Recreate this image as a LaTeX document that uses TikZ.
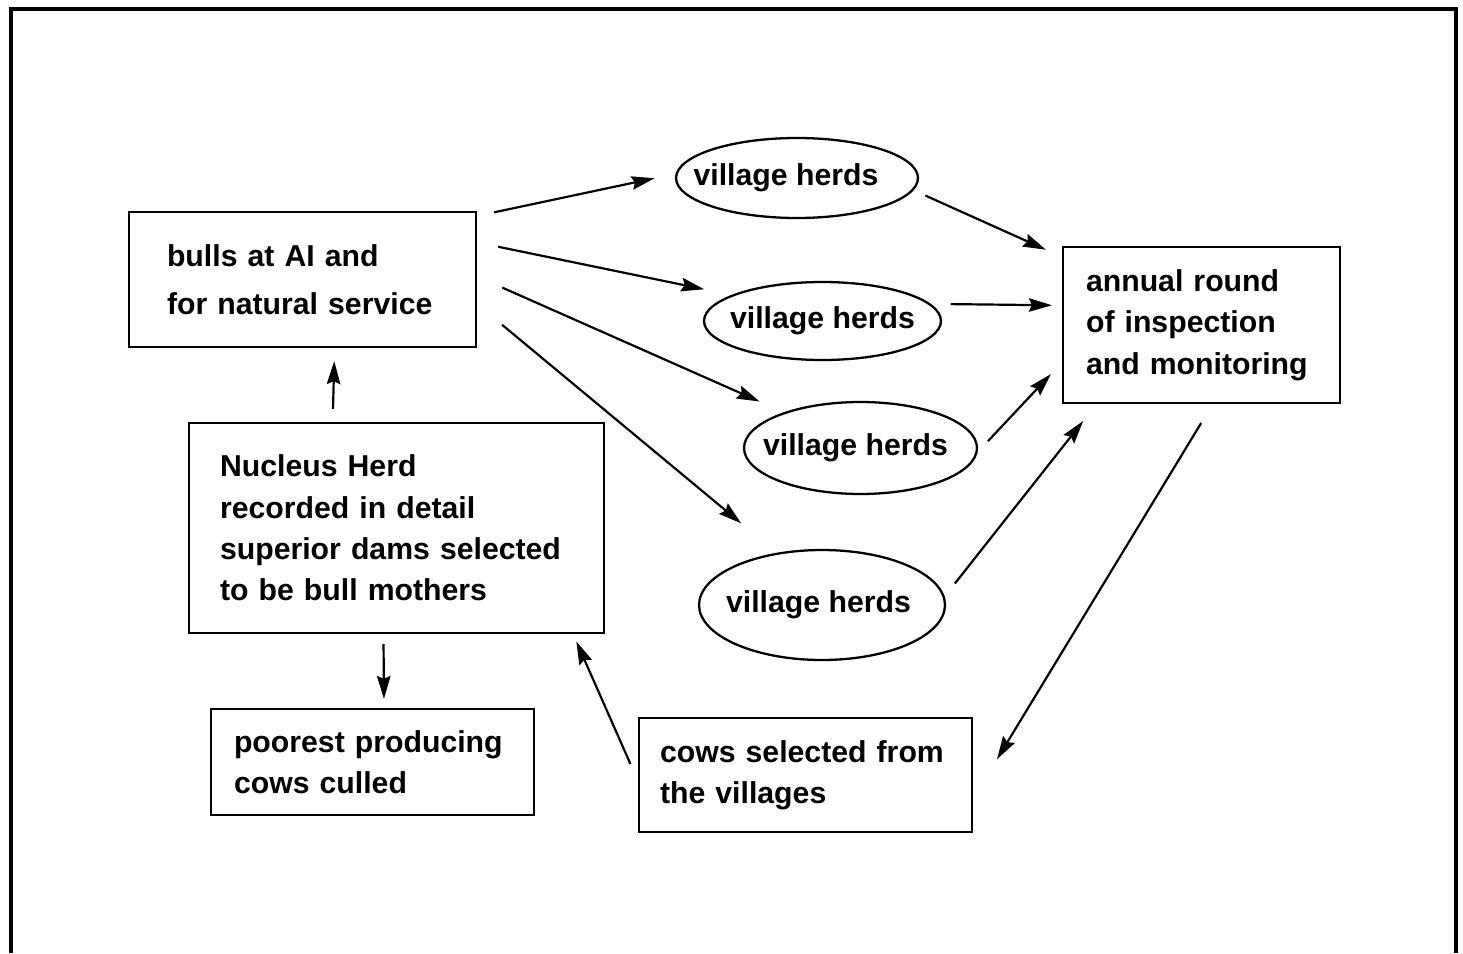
\documentclass[tikz,border=0pt]{standalone}
\usepackage{fontspec}
\setmainfont{Liberation Sans}
\usetikzlibrary{shapes.geometric,arrows.meta}
\begin{document}
\begin{tikzpicture}[x=0.02cm,y=-0.02cm,
  txt/.style={font=\bfseries\fontsize{17.2}{23.5}\selectfont},
  box/.style={draw, line width=1.3pt, txt, align=left, inner ysep=0pt},
  herd/.style={draw, ellipse, line width=1.3pt, txt, inner sep=0pt},
  arr/.style={-{Stealth[length=0.46cm,width=0.27cm,inset=0.06cm]}, line width=1.25pt},
  frame/.style={line width=2.2pt}]
\useasboundingbox (0,0) rectangle (1463,953);
\draw[frame] (11,953) -- (11,9) -- (1456,9) -- (1456,953);

\node[box, font=\bfseries\fontsize{17.2}{27.3}\selectfont, text width=5.42cm, inner xsep=0.76cm, minimum height=2.7cm] (bulls) at (302.5,279.5) {bulls at AI and\\for natural service};
\node[box, text width=7.06cm, inner xsep=0.62cm, minimum height=4.2cm] (nucleus) at (396.5,528) {Nucleus Herd\\recorded in detail\\superior dams selected\\to be bull mothers};
\node[box, text width=5.54cm, inner xsep=0.46cm, minimum height=2.12cm] (poorest) at (372.5,762) {poorest producing\\cows culled};
\node[box, text width=5.82cm, inner xsep=0.42cm, minimum height=2.28cm] (cows) at (805.5,775) {cows selected from\\the villages};
\node[box, text width=4.62cm, inner xsep=0.46cm, minimum height=3.12cm] (annual) at (1201.5,325) {annual round\\of inspection\\and monitoring};

\node[herd, minimum width=4.84cm, minimum height=1.6cm] (e1) at (797,178) {\makebox[0pt]{village herds\hspace{0.44cm}}};
\node[herd, minimum width=4.74cm, minimum height=1.56cm] (e2) at (822.5,321) {\makebox[0pt]{village herds}};
\node[herd, minimum width=4.66cm, minimum height=1.84cm] (e3) at (860.5,448) {\makebox[0pt]{village herds\hspace{0.2cm}}};
\node[herd, minimum width=4.92cm, minimum height=2.2cm] (e4) at (822,605) {\makebox[0pt]{village herds\hspace{0.14cm}}};

\draw[arr, shorten <=0.35cm, shorten >=0.43cm] (bulls.20) -- (e1.178);
\draw[arr, shorten <=0.43cm, shorten >=0.56cm] (bulls.12) -- (e2.164);
\draw[arr, shorten <=0.55cm, shorten >=0.53cm] (bulls.1.5) -- (e3.155);
\draw[arr, shorten <=0.65cm, shorten >=0.92cm] (bulls.-8) -- (e4.131);
\draw[arr, shorten <=0.26cm, shorten >=0.35cm] (e1.-6) -- (annual.154);
\draw[arr, shorten <=0.4cm, shorten >=0.2cm] (e2.9) -- (annual.172);
\draw[arr, shorten <=0.3cm, shorten >=0.32cm] (e3.-2) -- (annual.195);
\draw[arr, shorten <=0.33cm, shorten >=0.43cm] (e4.4) -- (annual.217);
\draw[arr, shorten <=0.44cm, shorten >=0.92cm] (annual.-82) -- (cows.-8);
\draw[arr, shorten <=0.37cm, shorten >=0.16cm] (cows.182) -- (nucleus.-31.5);
\draw[arr, shorten <=0.26cm, shorten >=0.26cm] (nucleus.121) -- (bulls.-65.7);
\draw[arr, shorten <=0.2cm, shorten >=0.18cm] (nucleus.263) -- (poorest.78);
\end{tikzpicture}
\end{document}
